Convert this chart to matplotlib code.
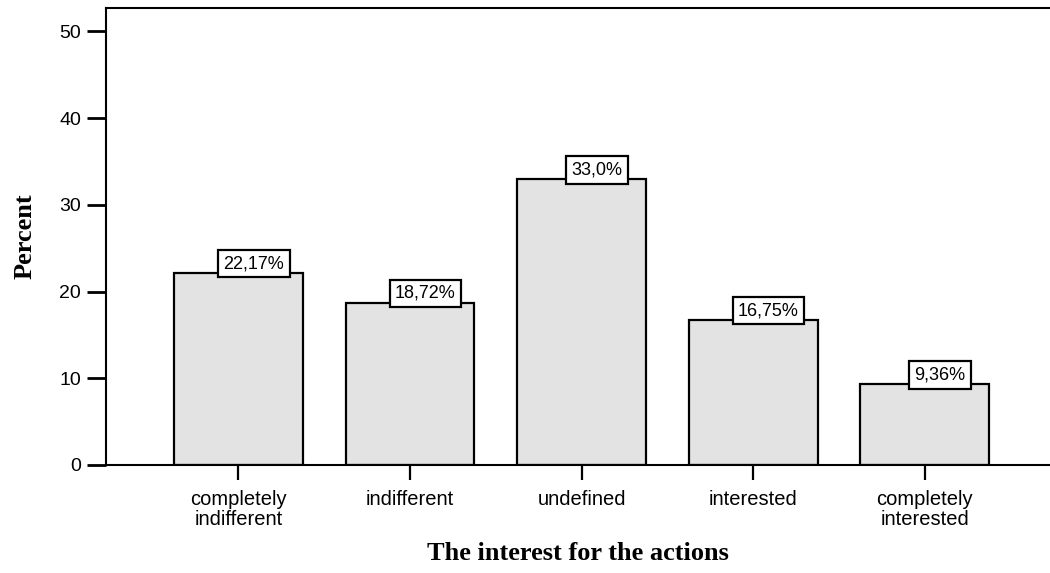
import matplotlib
matplotlib.use("Agg")
import matplotlib.pyplot as plt

categories = ["completely\nindifferent", "indifferent", "undefined",
              "interested", "completely\ninterested"]
percent = [22.17, 18.72, 33.0, 16.75, 9.36]
value_labels = ["22,17%", "18,72%", "33,0%", "16,75%", "9,36%"]
y_ticks = [0, 10, 20, 30, 40, 50]

fig = plt.figure(figsize=(10.5, 5.73), dpi=100)
ax = fig.add_axes([0.101, 0.1885, 0.899, 0.7975])

x = list(range(len(categories)))
ax.bar(x, percent, width=0.75, color="#e3e3e3", edgecolor="black",
       linewidth=1.6, zorder=2)

for xi, v, lab in zip(x, percent, value_labels):
    ax.annotate(lab, xy=(xi, v), xytext=(11, 0.5), textcoords="offset points",
                ha="center", va="bottom", fontsize=13,
                family="Liberation Sans", zorder=3,
                bbox=dict(boxstyle="square,pad=0.3", fc="white",
                          ec="black", lw=1.6))

ax.set_xlim(-0.772, 4.73)
ax.set_ylim(0, 52.7)
ax.set_yticks(y_ticks)
ax.set_xticks(x)
ax.set_xticklabels(categories, family="Liberation Sans", fontsize=14.5,
                   linespacing=1.1)
ax.set_yticklabels([str(t) for t in y_ticks], family="Liberation Sans",
                   fontsize=14)

ax.tick_params(axis="y", length=14, width=2, direction="out", pad=4)
ax.tick_params(axis="x", length=11, width=1.6, direction="out", pad=7)

ax.spines["right"].set_visible(False)
for side in ("left", "top", "bottom"):
    ax.spines[side].set_linewidth(1.5)

ax.set_xlabel("The interest for the actions", family="Liberation Serif",
              fontweight="bold", fontsize=19, labelpad=9)
ax.set_ylabel("Percent", family="Liberation Serif", fontweight="bold",
              fontsize=19, labelpad=16)

fig.savefig("out.png", dpi=100)
